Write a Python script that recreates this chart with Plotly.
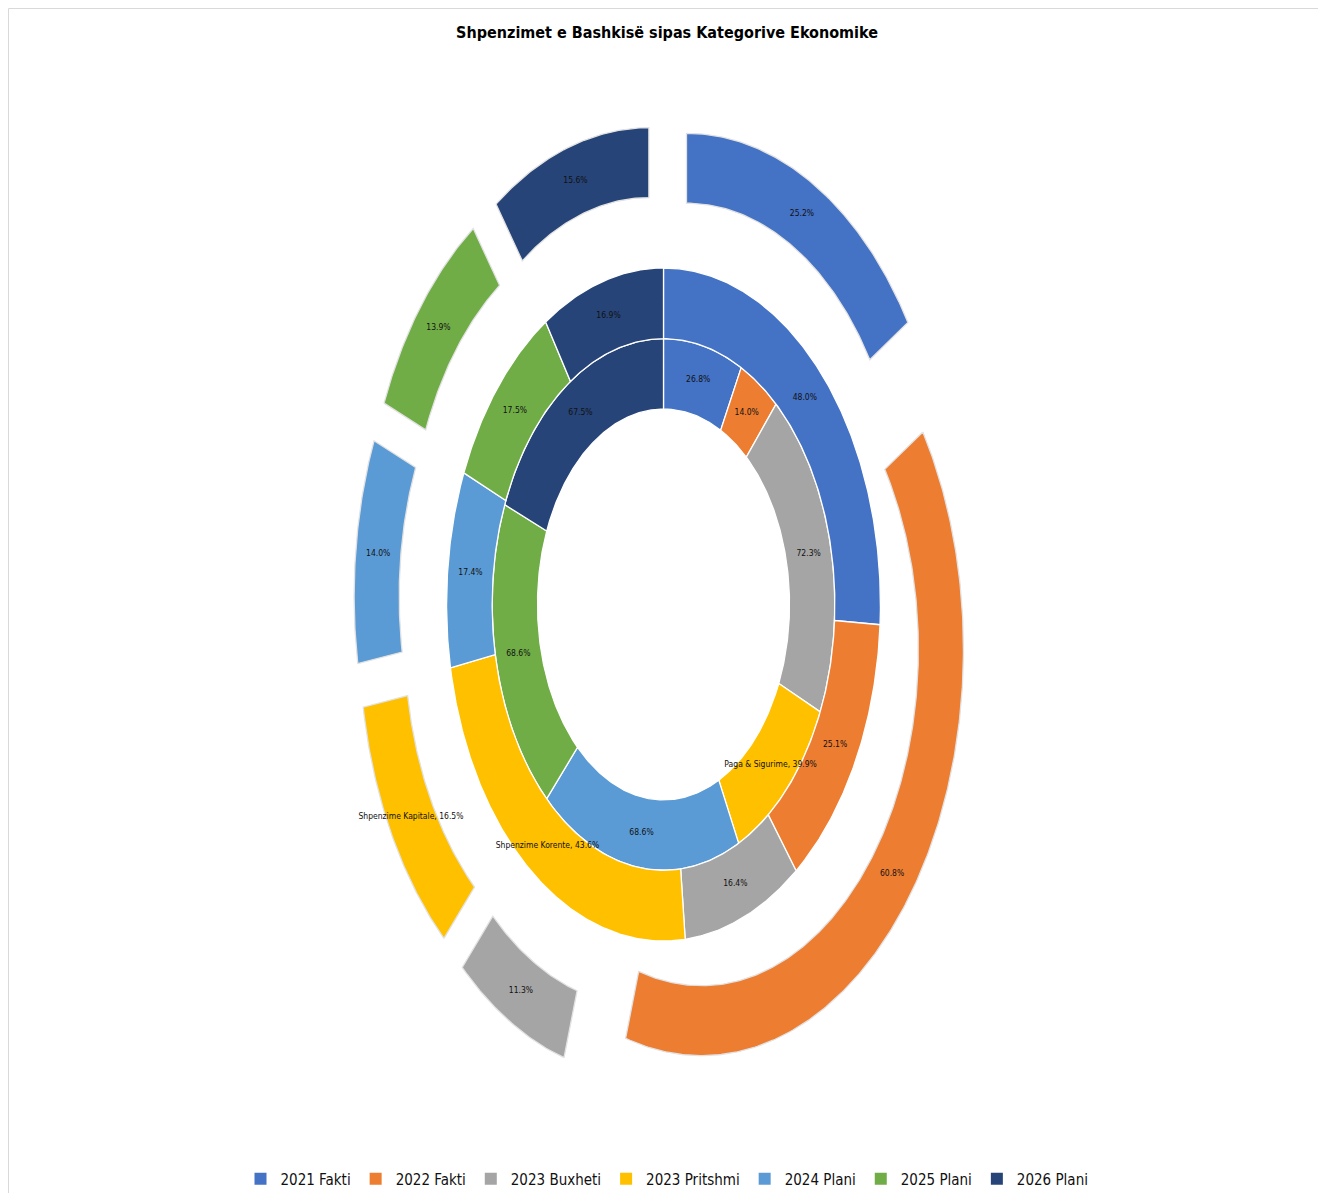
import numpy as np
import plotly.graph_objects as go

# ---------------- data ----------------
categories = ["2021 Fakti", "2022 Fakti", "2023 Buxheti", "2023 Pritshmi",
              "2024 Plani", "2025 Plani", "2026 Plani"]
series_names = ["Paga & Sigurime", "Shpenzime Korente", "Shpenzime Kapitale"]
paga_sigurime = [26.8, 14.0, 72.3, 39.9, 68.6, 68.6, 67.5]
shpenzime_korente = [48.0, 25.1, 16.4, 43.6, 17.4, 17.5, 16.9]
shpenzime_kapitale = [25.2, 60.8, 11.3, 16.5, 14.0, 13.9, 15.6]
named_label_category = "2023 Pritshmi"

colors = ["#4472C4", "#ED7D31", "#A5A5A5", "#FFC000", "#5B9BD5", "#70AD47", "#264478"]

# ---------------- layout constants ----------------
OFF = 8                          # page body margin
W, H = 1318, 1188
CX, CY = 663.5, 606.0            # centre (page px)
RH = 262.0                       # outer radius horizontally (px)
ASPECT = 1.555                   # vertical stretch of the reference
RADII = [0.481, 0.654, 0.828, 1.0]
EXPLODE = [0.0, 0.0, 0.182]
FONT = "DejaVu Sans Condensed, Liberation Sans Narrow, Arial Narrow, sans-serif"


def to_xy(angle_deg, r, ox=0.0, oy=0.0):
    a = np.radians(angle_deg)
    x = CX + RH * (ox + r * np.sin(a))
    y = CY - RH * ASPECT * (oy + r * np.cos(a))
    return x, y


fig = go.Figure()

rings = [paga_sigurime, shpenzime_korente, shpenzime_kapitale]
label_traces = []
for ri, values in enumerate(rings):
    vals = np.array(values, dtype=float)
    total = vals.sum()
    ends = np.cumsum(vals) / total * 360.0
    starts = ends - vals / total * 360.0
    r_in, r_out = RADII[ri], RADII[ri + 1]
    lx, ly, lt = [], [], []
    for ci, (a0, a1) in enumerate(zip(starts, ends)):
        mid = (a0 + a1) / 2.0
        ex = EXPLODE[ri]
        ox, oy = ex * np.sin(np.radians(mid)), ex * np.cos(np.radians(mid))
        n = max(int((a1 - a0) * 2), 8)
        t_out = np.linspace(a0, a1, n)
        t_in = t_out[::-1]
        xo, yo = to_xy(t_out, r_out, ox, oy)
        xi, yi = to_xy(t_in, r_in, ox, oy)
        xs = np.concatenate([xo, xi, xo[:1]])
        ys = np.concatenate([yo, yi, yo[:1]])
        fig.add_trace(go.Scatter(
            x=xs, y=ys, mode="lines", fill="toself",
            fillcolor=colors[ci],
            line=dict(color="#FFFFFF" if ri < 2 else "#E2E2E2", width=1.3),
            legendgroup=categories[ci], showlegend=False, hoverinfo="skip"))
        tx, ty = to_xy(mid, (r_in + r_out) / 2.0, ox, oy)
        lx.append(float(tx))
        ly.append(float(ty))
        txt = f"{values[ci]:.1f}%"
        if categories[ci] == named_label_category:
            txt = f"{series_names[ri]}, {txt}"
        lt.append(txt)
    label_traces.append(go.Scatter(
        x=lx, y=ly, mode="text", text=lt, textposition="middle center",
        textfont=dict(family=FONT, size=8.5, color="#111111"),
        showlegend=False, hoverinfo="skip"))

for tr in label_traces:
    fig.add_trace(tr)

# legend entries
for ci, cat in enumerate(categories):
    fig.add_trace(go.Scatter(
        x=[None], y=[None], mode="markers", name=cat, legendgroup=cat,
        marker=dict(symbol="square", size=9, color=colors[ci])))

fig.add_shape(type="rect", x0=8.5, y0=8.5, x1=1321, y1=1230,
              line=dict(color="#D9D9D9", width=1), layer="below")

fig.update_layout(
    width=W, height=H,
    margin=dict(l=0, r=0, t=0, b=0),
    paper_bgcolor="white", plot_bgcolor="white",
    xaxis=dict(range=[OFF, OFF + W], visible=False, fixedrange=True),
    yaxis=dict(range=[OFF + H, OFF], visible=False, fixedrange=True),
    title=dict(text="<b>Shpenzimet e Bashkisë sipas Kategorive Ekonomike</b>",
               x=0.5, xanchor="center", y=1 - (32 - OFF) / H, yanchor="middle",
               font=dict(family=FONT, size=16, color="#000000")),
    legend=dict(orientation="h", x=0.5, xanchor="center",
                y=(OFF + H - 1182) / H, yanchor="middle",
                font=dict(family=FONT, size=15, color="#111111"),
                itemsizing="constant", bgcolor="rgba(0,0,0,0)"),
    showlegend=True,
)

fig.write_html("out.html")
